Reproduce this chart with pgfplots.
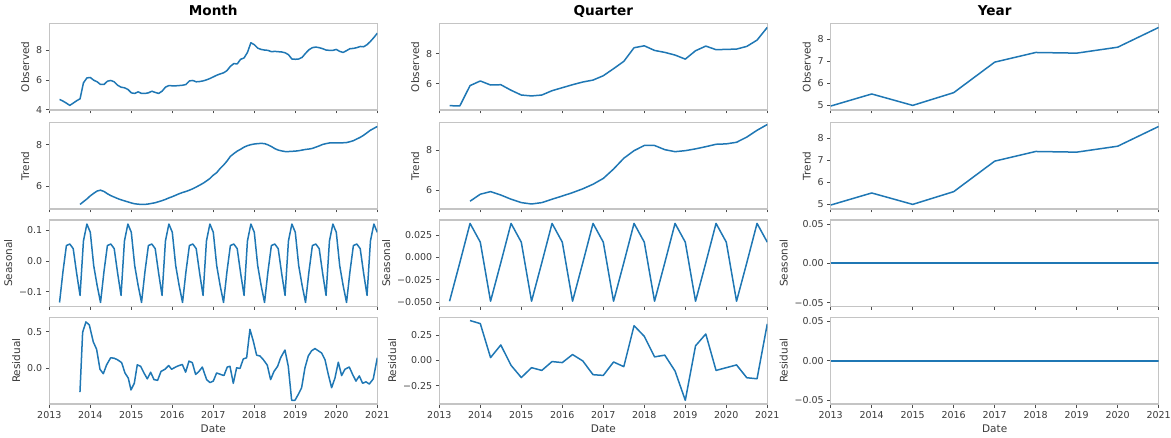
\documentclass[border=0pt]{standalone}
\usepackage{pgfplots}
\pgfplotsset{compat=1.18}
\usepackage{fontspec}
\setmainfont{DejaVu Sans}
\definecolor{mplblue}{HTML}{1F77B4}
\definecolor{framegray}{HTML}{C4C4C4}
\definecolor{labelgray}{HTML}{3A3A3A}

\pgfplotsset{
  panel/.style={
    scale only axis, width=328pt, height=86.5pt, anchor=south west,
    xmin=2013, xmax=2021, clip=true,
    axis line style={draw=framegray, line width=1.2pt},
    xtick={2013,2014,...,2021}, minor x tick num=3,
    tick align=outside, xtick pos=bottom, ytick pos=left,
    major tick length=3.5pt, minor tick length=2pt,
    tick style={draw=black!70, line width=0.6pt},
    scaled y ticks=false,
    xticklabels={},
    ticklabel style={font=\fontsize{9.5}{10}\selectfont, text=labelgray},
    /pgf/number format/assume math mode=true,
    /pgf/number format/1000 sep={},
    ylabel style={font=\fontsize{10.5}{11}\selectfont, text=labelgray},
    xlabel style={font=\fontsize{10.5}{11}\selectfont, text=labelgray},
    every axis plot post/.append style={color=mplblue, line width=1.5pt, line join=round, mark=none},
  },
  bottompanel/.style={panel,
    xticklabels={2013,2014,2015,2016,2017,2018,2019,2020,2021},
    xlabel=Date},
  coltitle/.style={title=#1,
    title style={font=\bfseries\fontsize{13.6}{14}\selectfont,
      at={(0.5,1)}, anchor=base, yshift=1.8pt}},
}

\begin{document}
\begin{tikzpicture}
\path[use as bounding box] (0pt,0pt) rectangle (1171pt,437pt);

% ---------------- Monthly decomposition ----------------
\begin{axis}[panel, coltitle=Month, at={(49.3pt,327pt)},
  ymin=3.98, ymax=9.78, ytick={4,6,8}, ylabel=Observed]
\addplot coordinates {
(2013.250,4.69)(2013.333,4.58)(2013.417,4.44)(2013.500,4.29)(2013.583,4.44)(2013.667,4.60)
(2013.750,4.73)(2013.833,5.80)(2013.917,6.13)(2014.000,6.16)(2014.083,5.98)(2014.167,5.87)
(2014.250,5.69)(2014.333,5.69)(2014.417,5.91)(2014.500,5.96)(2014.583,5.87)(2014.667,5.64)
(2014.750,5.51)(2014.833,5.47)(2014.917,5.36)(2015.000,5.13)(2015.083,5.09)(2015.167,5.20)
(2015.250,5.09)(2015.333,5.09)(2015.417,5.13)(2015.500,5.24)(2015.583,5.16)(2015.667,5.09)
(2015.750,5.24)(2015.833,5.51)(2015.917,5.62)(2016.000,5.60)(2016.083,5.60)(2016.167,5.62)
(2016.250,5.64)(2016.333,5.69)(2016.417,5.93)(2016.500,5.96)(2016.583,5.87)(2016.667,5.89)
(2016.750,5.93)(2016.833,6.00)(2016.917,6.09)(2017.000,6.20)(2017.083,6.31)(2017.167,6.40)
(2017.250,6.47)(2017.333,6.62)(2017.417,6.91)(2017.500,7.09)(2017.583,7.07)(2017.667,7.38)
(2017.750,7.47)(2017.833,7.84)(2017.917,8.49)(2018.000,8.36)(2018.083,8.13)(2018.167,8.04)
(2018.250,8.00)(2018.333,7.98)(2018.417,7.89)(2018.500,7.91)(2018.583,7.89)(2018.667,7.87)
(2018.750,7.82)(2018.833,7.69)(2018.917,7.40)(2019.000,7.38)(2019.083,7.40)(2019.167,7.51)
(2019.250,7.78)(2019.333,8.02)(2019.417,8.16)(2019.500,8.20)(2019.583,8.16)(2019.667,8.09)
(2019.750,8.00)(2019.833,7.98)(2019.917,7.98)(2020.000,8.04)(2020.083,7.91)(2020.167,7.84)
(2020.250,7.96)(2020.333,8.09)(2020.417,8.11)(2020.500,8.16)(2020.583,8.24)(2020.667,8.22)
(2020.750,8.36)(2020.833,8.58)(2020.917,8.84)(2021.000,9.13)};
\end{axis}

\begin{axis}[panel, at={(49.3pt,228pt)},
  ymin=4.92, ymax=9.06, ytick={6,8}, ylabel=Trend]
\addplot coordinates {
(2013.750,5.14)(2013.833,5.27)(2013.917,5.40)(2014.000,5.55)(2014.083,5.67)(2014.167,5.78)
(2014.250,5.82)(2014.333,5.76)(2014.417,5.65)(2014.500,5.56)(2014.583,5.49)(2014.667,5.42)
(2014.750,5.36)(2014.833,5.31)(2014.917,5.26)(2015.000,5.21)(2015.083,5.17)(2015.167,5.15)
(2015.250,5.14)(2015.333,5.14)(2015.417,5.16)(2015.500,5.19)(2015.583,5.22)(2015.667,5.27)
(2015.750,5.32)(2015.833,5.38)(2015.917,5.45)(2016.000,5.51)(2016.083,5.58)(2016.167,5.65)
(2016.250,5.71)(2016.333,5.76)(2016.417,5.82)(2016.500,5.89)(2016.583,5.97)(2016.667,6.06)
(2016.750,6.15)(2016.833,6.26)(2016.917,6.38)(2017.000,6.54)(2017.083,6.66)(2017.167,6.86)
(2017.250,7.02)(2017.333,7.21)(2017.417,7.44)(2017.500,7.57)(2017.583,7.69)(2017.667,7.78)
(2017.750,7.88)(2017.833,7.95)(2017.917,8.00)(2018.000,8.03)(2018.083,8.05)(2018.167,8.06)
(2018.250,8.05)(2018.333,7.99)(2018.417,7.91)(2018.500,7.81)(2018.583,7.74)(2018.667,7.70)
(2018.750,7.67)(2018.833,7.67)(2018.917,7.68)(2019.000,7.69)(2019.083,7.71)(2019.167,7.74)
(2019.250,7.77)(2019.333,7.79)(2019.417,7.82)(2019.500,7.88)(2019.583,7.94)(2019.667,8.01)
(2019.750,8.05)(2019.833,8.08)(2019.917,8.08)(2020.000,8.08)(2020.083,8.08)(2020.167,8.09)
(2020.250,8.10)(2020.333,8.14)(2020.417,8.19)(2020.500,8.27)(2020.583,8.35)(2020.667,8.45)
(2020.750,8.57)(2020.833,8.69)(2020.917,8.78)(2021.000,8.87)};
\end{axis}

\begin{axis}[panel, at={(49.3pt,130.5pt)},
  ymin=-0.148, ymax=0.133, ytick={-0.1,0,0.1},
  yticklabels={−0.1,0.0,0.1}, ylabel=Seasonal]
\addplot coordinates {
(2013.250,-0.135)(2013.333,-0.035)(2013.417,0.050)(2013.500,0.055)(2013.583,0.040)(2013.667,-0.040)
(2013.750,-0.112)(2013.833,0.065)(2013.917,0.120)
(2014.000,0.093)(2014.083,-0.015)(2014.167,-0.080)(2014.250,-0.135)(2014.333,-0.035)(2014.417,0.050)
(2014.500,0.055)(2014.583,0.040)(2014.667,-0.040)(2014.750,-0.112)(2014.833,0.065)(2014.917,0.120)
(2015.000,0.093)(2015.083,-0.015)(2015.167,-0.080)(2015.250,-0.135)(2015.333,-0.035)(2015.417,0.050)
(2015.500,0.055)(2015.583,0.040)(2015.667,-0.040)(2015.750,-0.112)(2015.833,0.065)(2015.917,0.120)
(2016.000,0.093)(2016.083,-0.015)(2016.167,-0.080)(2016.250,-0.135)(2016.333,-0.035)(2016.417,0.050)
(2016.500,0.055)(2016.583,0.040)(2016.667,-0.040)(2016.750,-0.112)(2016.833,0.065)(2016.917,0.120)
(2017.000,0.093)(2017.083,-0.015)(2017.167,-0.080)(2017.250,-0.135)(2017.333,-0.035)(2017.417,0.050)
(2017.500,0.055)(2017.583,0.040)(2017.667,-0.040)(2017.750,-0.112)(2017.833,0.065)(2017.917,0.120)
(2018.000,0.093)(2018.083,-0.015)(2018.167,-0.080)(2018.250,-0.135)(2018.333,-0.035)(2018.417,0.050)
(2018.500,0.055)(2018.583,0.040)(2018.667,-0.040)(2018.750,-0.112)(2018.833,0.065)(2018.917,0.120)
(2019.000,0.093)(2019.083,-0.015)(2019.167,-0.080)(2019.250,-0.135)(2019.333,-0.035)(2019.417,0.050)
(2019.500,0.055)(2019.583,0.040)(2019.667,-0.040)(2019.750,-0.112)(2019.833,0.065)(2019.917,0.120)
(2020.000,0.093)(2020.083,-0.015)(2020.167,-0.080)(2020.250,-0.135)(2020.333,-0.035)(2020.417,0.050)
(2020.500,0.055)(2020.583,0.040)(2020.667,-0.040)(2020.750,-0.112)(2020.833,0.065)(2020.917,0.120)
(2021.000,0.093)};
\end{axis}

\begin{axis}[bottompanel, at={(49.3pt,33pt)},
  ymin=-0.48, ymax=0.69, ytick={0,0.5},
  yticklabels={0.0,0.5}, ylabel=Residual]
\addplot coordinates {
(2013.748,-0.32)(2013.813,0.49)(2013.894,0.63)(2013.976,0.59)(2014.073,0.36)(2014.154,0.26)
(2014.236,-0.01)(2014.317,-0.07)(2014.398,0.05)(2014.496,0.145)(2014.577,0.14)(2014.659,0.12)
(2014.764,0.08)(2014.846,-0.06)(2014.927,-0.13)(2014.992,-0.29)(2015.073,-0.20)(2015.146,0.05)
(2015.228,0.03)(2015.309,-0.06)(2015.390,-0.14)(2015.472,-0.05)(2015.553,-0.15)(2015.642,-0.16)
(2015.724,-0.04)(2015.821,-0.01)(2015.911,0.04)(2015.984,-0.01)(2016.081,0.02)(2016.163,0.04)
(2016.244,0.055)(2016.325,-0.05)(2016.407,0.10)(2016.488,0.08)(2016.569,-0.08)(2016.650,-0.04)
(2016.732,0.02)(2016.837,-0.15)(2016.919,-0.19)(2017.000,-0.17)(2017.081,-0.06)(2017.179,-0.08)
(2017.260,-0.095)(2017.341,0.02)(2017.407,0.03)(2017.488,-0.20)(2017.569,0.01)(2017.650,0.00)
(2017.732,0.13)(2017.813,0.145)(2017.894,0.53)(2017.976,0.37)(2018.057,0.18)(2018.138,0.17)
(2018.220,0.12)(2018.317,0.045)(2018.398,-0.15)(2018.480,-0.04)(2018.569,0.03)(2018.642,0.145)
(2018.748,0.25)(2018.829,0.03)(2018.911,-0.43)(2018.992,-0.43)(2019.073,-0.35)(2019.154,-0.26)
(2019.236,0.01)(2019.317,0.17)(2019.398,0.24)(2019.480,0.27)(2019.561,0.24)(2019.642,0.21)
(2019.724,0.12)(2019.805,-0.08)(2019.886,-0.26)(2019.967,-0.13)(2020.049,0.085)(2020.130,-0.095)
(2020.211,-0.01)(2020.317,0.02)(2020.398,-0.08)(2020.480,-0.17)(2020.561,-0.10)(2020.642,-0.20)
(2020.724,-0.18)(2020.805,-0.21)(2020.902,-0.14)(2021.000,0.145)};
\end{axis}

% ---------------- Quarterly decomposition ----------------
\begin{axis}[panel, coltitle=Quarter, at={(439.3pt,327pt)},
  ymin=4.24, ymax=10.02, ytick={6,8}, ylabel=Observed]
\addplot coordinates {
(2013.25,4.53)(2013.50,4.51)(2013.75,5.87)(2014.00,6.18)(2014.25,5.91)(2014.50,5.93)
(2014.75,5.56)(2015.00,5.24)(2015.25,5.18)(2015.50,5.24)(2015.75,5.53)(2016.00,5.73)
(2016.25,5.93)(2016.50,6.11)(2016.75,6.24)(2017.00,6.53)(2017.25,7.00)(2017.50,7.49)
(2017.75,8.40)(2018.00,8.53)(2018.25,8.22)(2018.50,8.09)(2018.75,7.91)(2019.00,7.64)
(2019.25,8.20)(2019.50,8.51)(2019.75,8.27)(2020.00,8.29)(2020.25,8.31)(2020.50,8.49)
(2020.75,8.91)(2021.00,9.76)};
\end{axis}

\begin{axis}[panel, at={(439.3pt,228pt)},
  ymin=5.06, ymax=9.39, ytick={6,8}, ylabel=Trend]
\addplot coordinates {
(2013.75,5.45)(2014.00,5.80)(2014.25,5.93)(2014.50,5.76)(2014.75,5.55)(2015.00,5.38)
(2015.25,5.31)(2015.50,5.38)(2015.75,5.55)(2016.00,5.71)(2016.25,5.88)(2016.50,6.07)
(2016.75,6.30)(2017.00,6.59)(2017.25,7.06)(2017.50,7.60)(2017.75,7.98)(2018.00,8.24)
(2018.25,8.24)(2018.50,8.03)(2018.75,7.93)(2019.00,7.98)(2019.25,8.07)(2019.50,8.18)
(2019.75,8.30)(2020.00,8.32)(2020.25,8.40)(2020.50,8.66)(2020.75,9.00)(2021.00,9.29)};
\end{axis}

\begin{axis}[panel, at={(439.3pt,130.5pt)},
  ymin=-0.0549, ymax=0.0418, ytick={-0.05,-0.025,0,0.025},
  yticklabels={−0.050,−0.025,0.000,0.025}, ylabel=Seasonal]
\addplot coordinates {
(2013.25,-0.049)(2013.50,-0.006)(2013.75,0.038)(2014.00,0.017)
(2014.25,-0.049)(2014.50,-0.006)(2014.75,0.038)(2015.00,0.017)
(2015.25,-0.049)(2015.50,-0.006)(2015.75,0.038)(2016.00,0.017)
(2016.25,-0.049)(2016.50,-0.006)(2016.75,0.038)(2017.00,0.017)
(2017.25,-0.049)(2017.50,-0.006)(2017.75,0.038)(2018.00,0.017)
(2018.25,-0.049)(2018.50,-0.006)(2018.75,0.038)(2019.00,0.017)
(2019.25,-0.049)(2019.50,-0.006)(2019.75,0.038)(2020.00,0.017)
(2020.25,-0.049)(2020.50,-0.006)(2020.75,0.038)(2021.00,0.017)};
\end{axis}

\begin{axis}[bottompanel, at={(439.3pt,33pt)},
  ymin=-0.43, ymax=0.42, ytick={-0.25,0,0.25},
  yticklabels={−0.25,0.00,0.25}, ylabel=Residual]
\addplot coordinates {
(2013.75,0.390)(2014.00,0.360)(2014.25,0.026)(2014.50,0.150)(2014.75,-0.050)(2015.00,-0.170)
(2015.25,-0.073)(2015.50,-0.100)(2015.75,-0.013)(2016.00,-0.023)(2016.25,0.056)(2016.50,-0.007)
(2016.75,-0.142)(2017.00,-0.149)(2017.25,-0.017)(2017.50,-0.063)(2017.75,0.340)(2018.00,0.235)
(2018.25,0.033)(2018.50,0.050)(2018.75,-0.106)(2019.00,-0.394)(2019.25,0.142)(2019.50,0.258)
(2019.75,-0.100)(2020.00,-0.073)(2020.25,-0.046)(2020.50,-0.172)(2020.75,-0.182)(2021.00,0.358)};
\end{axis}

% ---------------- Yearly decomposition ----------------
\begin{axis}[panel, coltitle=Year, at={(830.7pt,327pt)},
  ymin=4.77, ymax=8.71, ytick={5,6,7,8}, ylabel=Observed]
\addplot coordinates {
(2013,4.95)(2014,5.50)(2015,4.98)(2016,5.56)(2017,6.95)(2018,7.39)(2019,7.36)(2020,7.63)(2021,8.53)};
\end{axis}

\begin{axis}[panel, at={(830.7pt,228pt)},
  ymin=4.77, ymax=8.71, ytick={5,6,7,8}, ylabel=Trend]
\addplot coordinates {
(2013,4.95)(2014,5.50)(2015,4.98)(2016,5.56)(2017,6.95)(2018,7.39)(2019,7.36)(2020,7.63)(2021,8.53)};
\end{axis}

\begin{axis}[panel, at={(830.7pt,130.5pt)},
  ymin=-0.055, ymax=0.055, ytick={-0.05,0,0.05},
  yticklabels={−0.05,0.00,0.05}, ylabel=Seasonal]
\addplot coordinates {
(2013,0)(2014,0)(2015,0)(2016,0)(2017,0)(2018,0)(2019,0)(2020,0)(2021,0)};
\end{axis}

\begin{axis}[bottompanel, at={(830.7pt,33pt)},
  ymin=-0.055, ymax=0.055, ytick={-0.05,0,0.05},
  yticklabels={−0.05,0.00,0.05}, ylabel=Residual]
\addplot coordinates {
(2013,0)(2014,0)(2015,0)(2016,0)(2017,0)(2018,0)(2019,0)(2020,0)(2021,0)};
\end{axis}
\end{tikzpicture}
\end{document}
